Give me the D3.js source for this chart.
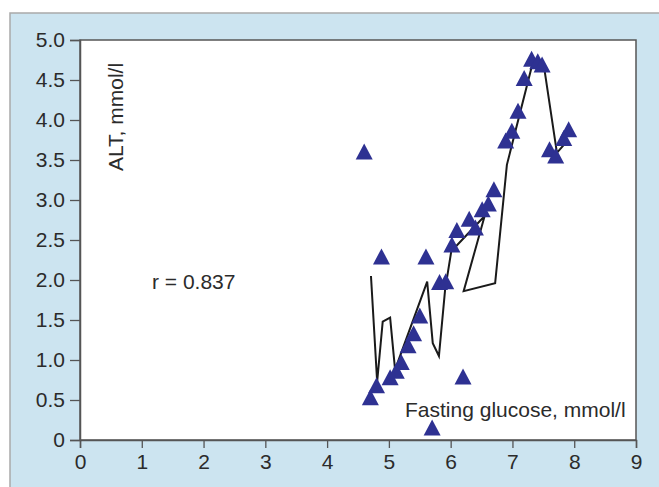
<!DOCTYPE html>
<meta charset="utf-8">
<script src="https://cdn.jsdelivr.net/npm/d3@7"></script>
<style>
  body { margin: 0; background: #fff; }
  text { font-family: "Liberation Sans", Arial, sans-serif; fill: #2b2b2b; }
</style>
<body>
<script>

var width = 659
var height = 487

// ticks
var xTicks = [0, 1, 2, 3, 4, 5, 6, 7, 8, 9]
var yTicks = [0, 0.5, 1.0, 1.5, 2.0, 2.5, 3.0, 3.5, 4.0, 4.5, 5.0]

// scatter: fasting glucose vs ALT
var glucose = [4.60, 4.88, 4.70, 4.80, 5.02, 5.12, 5.20, 5.31, 5.40, 5.50, 5.60, 5.70,
               5.82, 5.92, 6.02, 6.10, 6.20, 6.30, 6.40, 6.51, 6.61, 6.70, 6.89, 6.99,
               7.09, 7.19, 7.31, 7.41, 7.48, 7.60, 7.70, 7.83, 7.91]
var alt     = [3.58, 2.27, 0.51, 0.66, 0.76, 0.84, 0.95, 1.16, 1.31, 1.53, 2.27, 0.13,
               1.95, 1.96, 2.42, 2.60, 0.77, 2.74, 2.63, 2.86, 2.93, 3.11, 3.72, 3.84,
               4.09, 4.50, 4.74, 4.71, 4.67, 3.61, 3.53, 3.75, 3.86]

// trend line vertices
var lineX = [4.71, 4.81, 4.90, 5.02, 5.10, 5.62, 5.71, 5.81, 5.91, 6.01, 6.55, 6.21, 6.72, 6.91, 7.31, 7.52, 7.72, 7.90]
var lineY = [2.05, 0.73, 1.48, 1.53, 0.88, 1.98, 1.21, 1.05, 1.88, 2.36, 2.80, 1.86, 1.96, 3.44, 4.66, 4.62, 3.59, 3.75]

var svg = d3.select("body").append("svg")
            .attr("width", width)
            .attr("height", height)

// light blue panel
svg.append("rect")
   .attr("x", 10)
   .attr("y", 13)
   .attr("width", width)
   .attr("height", height)
   .style("fill", "#cce4f0")
   .style("stroke", "#a9a9a9")
   .style("stroke-width", 1.5)

var x = d3.scaleLinear().domain([0, 9]).range([80, 636])
var y = d3.scaleLinear().domain([0, 5]).range([440, 40])

svg.append("rect")
   .attr("x", x(0))
   .attr("y", y(5))
   .attr("width", x(9) - x(0))
   .attr("height", y(0) - y(5))
   .style("fill", "#fff")
   .style("stroke", "#555")
   .style("stroke-width", 1.5)

var xAxis = svg.append("g")
   .attr("transform", "translate(0," + y(0) + ")")
   .call(d3.axisBottom(x).tickValues(xTicks).tickSize(8).tickPadding(6).tickFormat(d3.format("d")))
   .attr("font-size", 21)
   .attr("font-family", "Liberation Sans, Arial, sans-serif")

var yAxis = svg.append("g")
   .attr("transform", "translate(" + x(0) + ",0)")
   .call(d3.axisLeft(y).tickValues(yTicks).tickSize(10).tickPadding(5)
           .tickFormat(d => d === 0 ? "0" : d3.format(".1f")(d)))
   .attr("font-size", 21)
   .attr("font-family", "Liberation Sans, Arial, sans-serif")

svg.selectAll(".domain").style("stroke", "#555").style("stroke-width", 1.5)
svg.selectAll(".tick line").style("stroke", "#555").style("stroke-width", 1.3)
svg.selectAll(".tick text").attr("fill", "#2b2b2b")

// trend line
var linePts = lineX.map((d, i) => [d, lineY[i]])
svg.append("path")
   .datum(linePts)
   .attr("d", d3.line().x(d => x(d[0])).y(d => y(d[1])))
   .style("fill", "none")
   .style("stroke", "#1a1a1a")
   .style("stroke-width", 2)

// triangles
var pts = glucose.map((d, i) => [d, alt[i]])
svg.append("g").selectAll("path")
   .data(pts)
   .enter().append("path")
   .attr("transform", d => "translate(" + x(d[0]) + "," + y(d[1]) + ")")
   .attr("d", "M 0,-10 L 8.5,6 L -8.5,6 Z")
   .style("fill", "#2e3192")

// labels
svg.append("text")
   .attr("transform", "translate(123,117) rotate(-90)")
   .style("text-anchor", "middle")
   .style("font-size", "21px")
   .text("ALT, mmol/l")

svg.append("text")
   .attr("x", 152)
   .attr("y", 289)
   .style("font-size", "21px")
   .text("r = 0.837")

svg.append("text")
   .attr("x", 405)
   .attr("y", 417)
   .style("font-size", "21px")
   .text("Fasting glucose, mmol/l")

</script>
</body>
